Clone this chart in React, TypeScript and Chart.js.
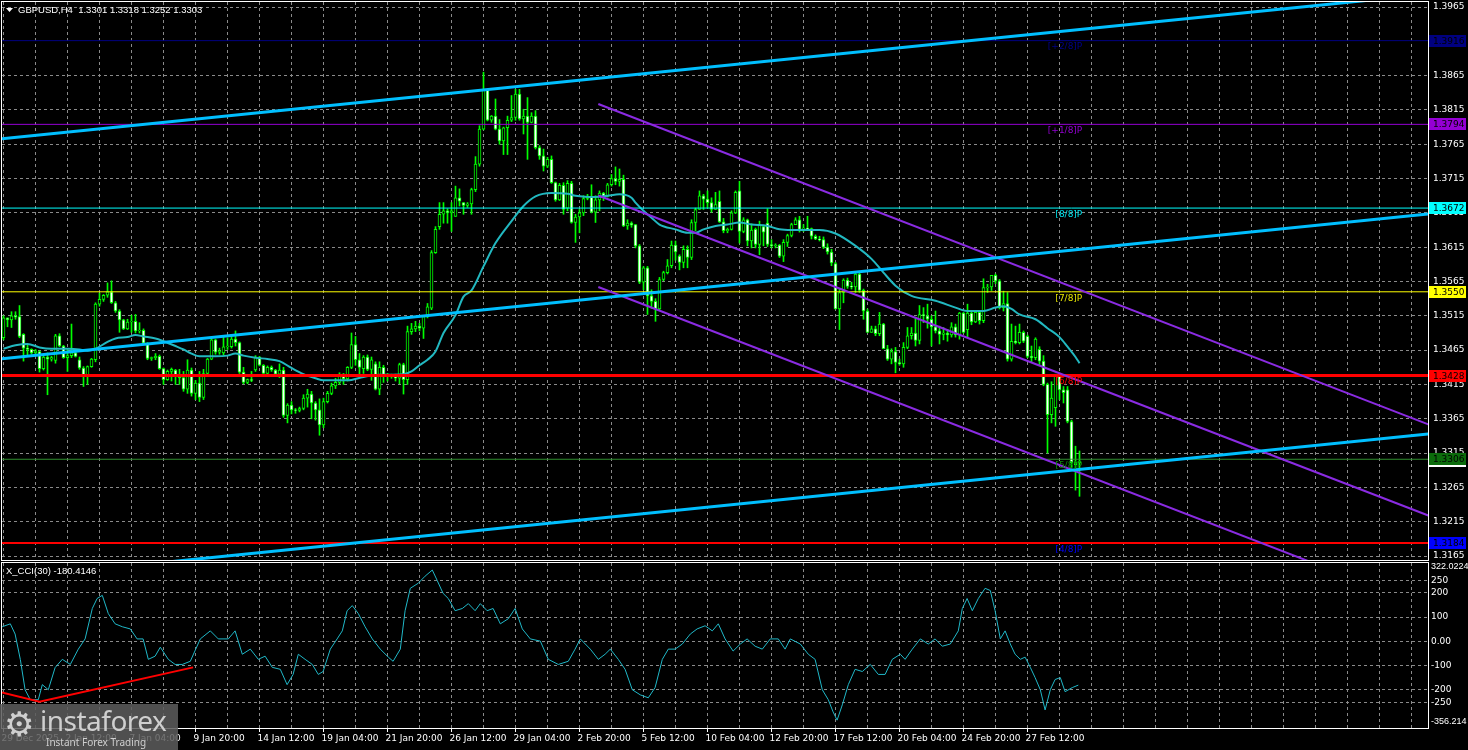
import React, { useEffect, useRef } from 'react';
import { Chart, registerables } from 'chart.js';

Chart.register(...registerables);

const FONT = 'DejaVu Sans';
const FONT_NARROW = 'Liberation Sans';
const GRID_COLOR = '#8a8a8a';

// ---------------- data ----------------
const HEADER_TEXT = 'GBPUSD,H4  1.3301 1.3318 1.3252 1.3303';
const CCI_TITLE = 'X_CCI(30) -180.4146';

// H4 candles (price x 10000)
const OPEN = [
  13483,13512,13509,13515,13514,13488,13468,13466,13461,13463,
  13438,13455,13452,13450,13486,13471,13454,13457,13461,13451,
  13439,13428,13441,13451,13532,13539,13545,13550,13534,13522,
  13509,13496,13506,13507,13493,13494,13475,13453,13454,13456,
  13438,13422,13434,13436,13428,13425,13408,13436,13402,13417,
  13396,13431,13452,13480,13462,13461,13470,13470,13481,13476,
  13433,13418,13422,13436,13455,13443,13431,13440,13436,13430,
  13436,13370,13385,13378,13377,13380,13395,13401,13388,13378,
  13356,13390,13402,13413,13418,13430,13423,13440,13473,13451,
  13438,13455,13437,13445,13408,13440,13429,13428,13426,13424,
  13444,13422,13492,13496,13500,13497,13514,13526,13607,13645,
  13663,13668,13665,13660,13687,13680,13676,13678,13699,13736,
  13787,13845,13800,13806,13787,13770,13789,13800,13804,13838,
  13802,13806,13797,13806,13760,13748,13733,13743,13709,13684,
  13705,13672,13708,13651,13659,13665,13686,13688,13666,13684,
  13694,13689,13706,13715,13711,13714,13646,13650,13648,13617,
  13564,13585,13544,13536,13525,13568,13578,13588,13618,13602,
  13593,13612,13600,13651,13670,13690,13685,13680,13670,13682,
  13652,13639,13641,13665,13697,13638,13655,13624,13641,13619,
  13645,13650,13619,13617,13618,13602,13622,13632,13648,13655,
  13641,13643,13642,13631,13627,13626,13615,13608,13591,13525,
  13549,13567,13558,13557,13576,13552,13522,13491,13496,13489,
  13503,13467,13452,13463,13447,13445,13469,13486,13490,13479,
  13517,13515,13510,13499,13493,13488,13490,13487,13499,13487,
  13519,13495,13519,13506,13520,13508,13556,13557,13574,13566,
  13527,13533,13452,13478,13476,13491,13485,13456,13454,13466,
  13449,13415,13371,13381,13427,13407,13407,13361,13298,13301,
];
const HIGH = [
  13515,13512,13521,13521,13530,13489,13473,13467,13466,13464,
  13456,13461,13456,13488,13489,13472,13466,13503,13463,13455,
  13441,13442,13453,13534,13548,13546,13563,13566,13536,13524,
  13510,13510,13516,13517,13505,13496,13476,13455,13460,13458,
  13439,13436,13439,13437,13437,13434,13451,13439,13421,13434,
  13437,13453,13483,13481,13468,13485,13483,13488,13493,13477,
  13440,13423,13434,13457,13456,13444,13442,13442,13437,13445,
  13440,13387,13390,13380,13382,13400,13408,13405,13390,13394,
  13395,13405,13417,13424,13432,13431,13441,13490,13485,13460,
  13457,13458,13455,13448,13448,13443,13431,13430,13430,13446,
  13446,13500,13504,13507,13504,13514,13533,13610,13645,13680,
  13680,13671,13680,13704,13700,13680,13680,13701,13747,13792,
  13870,13845,13807,13831,13801,13790,13806,13836,13845,13845,
  13816,13833,13811,13814,13763,13758,13746,13748,13710,13708,
  13709,13712,13711,13663,13670,13690,13692,13706,13690,13697,
  13695,13708,13721,13732,13729,13720,13655,13652,13648,13619,
  13587,13587,13553,13540,13571,13580,13597,13624,13624,13604,
  13617,13617,13655,13672,13697,13692,13697,13687,13695,13697,
  13657,13643,13668,13697,13711,13658,13656,13649,13643,13653,
  13646,13671,13626,13620,13619,13626,13634,13650,13658,13660,
  13648,13660,13643,13633,13631,13630,13620,13612,13593,13554,
  13569,13570,13564,13578,13578,13554,13525,13500,13500,13520,
  13504,13472,13467,13469,13452,13476,13498,13498,13513,13530,
  13527,13532,13515,13522,13500,13498,13495,13505,13503,13520,
  13520,13532,13523,13522,13522,13569,13561,13574,13576,13568,
  13551,13549,13503,13500,13503,13493,13487,13471,13483,13470,
  13457,13417,13419,13430,13430,13412,13412,13363,13325,13318,
];
const LOW = [
  13480,13499,13498,13510,13483,13449,13456,13459,13458,13433,
  13436,13400,13449,13446,13470,13453,13434,13454,13455,13437,
  13412,13415,13440,13448,13529,13536,13542,13533,13520,13491,
  13495,13495,13491,13490,13490,13473,13451,13450,13451,13437,
  13415,13421,13420,13415,13415,13405,13402,13398,13393,13390,
  13393,13430,13451,13459,13459,13458,13466,13468,13471,13431,
  13416,13416,13419,13434,13442,13429,13429,13434,13427,13425,
  13367,13359,13372,13373,13375,13378,13382,13365,13363,13341,
  13352,13388,13400,13409,13415,13415,13420,13438,13443,13426,
  13431,13435,13421,13407,13400,13418,13420,13424,13420,13416,
  13401,13415,13488,13492,13493,13482,13512,13524,13606,13641,
  13650,13650,13638,13660,13675,13663,13673,13663,13696,13733,
  13786,13799,13797,13786,13765,13750,13750,13798,13800,13800,
  13780,13743,13796,13758,13743,13726,13731,13708,13682,13683,
  13663,13668,13650,13622,13636,13661,13684,13665,13651,13668,
  13683,13688,13704,13706,13704,13645,13641,13644,13614,13562,
  13553,13517,13526,13507,13524,13566,13576,13585,13596,13582,
  13585,13585,13597,13639,13670,13670,13672,13666,13670,13651,
  13636,13636,13640,13664,13621,13636,13617,13614,13614,13604,
  13617,13616,13614,13614,13600,13594,13616,13630,13648,13637,
  13638,13640,13627,13626,13624,13613,13605,13588,13525,13495,
  13534,13555,13554,13549,13549,13510,13491,13491,13486,13486,
  13467,13450,13445,13432,13443,13440,13467,13481,13471,13474,
  13505,13497,13471,13490,13474,13480,13478,13484,13484,13481,
  13490,13483,13502,13505,13503,13505,13549,13552,13562,13525,
  13522,13449,13449,13474,13474,13476,13454,13447,13451,13444,
  13413,13315,13359,13354,13393,13388,13359,13293,13261,13252,
];
const CLOSE = [
  13512,13509,13515,13513,13485,13468,13466,13461,13464,13438,
  13455,13452,13454,13486,13471,13454,13457,13461,13456,13439,
  13428,13441,13452,13532,13539,13545,13550,13534,13522,13509,
  13496,13506,13507,13493,13494,13475,13453,13454,13456,13438,
  13422,13434,13437,13428,13425,13408,13436,13402,13417,13396,
  13431,13452,13480,13462,13464,13470,13471,13481,13476,13433,
  13418,13422,13421,13455,13443,13431,13440,13436,13430,13436,
  13370,13385,13378,13377,13380,13395,13401,13388,13378,13356,
  13390,13402,13413,13418,13430,13423,13440,13473,13451,13440,
  13455,13437,13451,13408,13440,13429,13428,13426,13424,13444,
  13422,13492,13496,13500,13497,13514,13528,13607,13641,13663,
  13668,13665,13668,13687,13682,13676,13678,13699,13736,13787,
  13845,13800,13806,13787,13770,13789,13800,13804,13838,13802,
  13806,13797,13806,13760,13748,13733,13743,13709,13684,13705,
  13670,13708,13651,13659,13665,13686,13688,13666,13684,13694,
  13689,13706,13715,13711,13714,13646,13650,13647,13617,13564,
  13585,13544,13536,13525,13568,13578,13588,13618,13608,13593,
  13612,13600,13651,13670,13690,13685,13680,13670,13677,13652,
  13639,13641,13665,13695,13638,13655,13624,13640,13619,13648,
  13637,13619,13617,13618,13602,13622,13632,13648,13655,13641,
  13643,13642,13631,13627,13626,13615,13608,13592,13525,13549,
  13567,13558,13557,13576,13552,13522,13491,13496,13489,13503,
  13467,13452,13463,13447,13445,13469,13486,13490,13479,13517,
  13515,13510,13499,13493,13488,13490,13487,13499,13487,13519,
  13491,13519,13506,13520,13508,13556,13557,13574,13566,13527,
  13533,13452,13478,13476,13491,13478,13456,13454,13481,13449,
  13415,13371,13395,13427,13407,13403,13361,13301,13301,13303,
];

// moving average (bar index, price x 10000)
const MA_BARS = [0,3,6,9,12,16,19,21,23,26,28,31,33,35,38,40,43,45,47,49,53,56,58,60,63,66,69,72,75,78,80,86,90,94,100,102,104,106,108,110,113,115,117,120,123,127,130,133,137,141,143,148,151,154,157,158,160,162,164,168,171,173,175,178,181,184,187,191,194,197,201,204,208,213,217,220,223,227,233,238,241,245,248,250,252,254,258,261,264,266,268,269];
const MA_VALUES = [13467,13472,13474,13469,13467,13467,13466,13464,13467,13477,13482,13484,13487,13485,13482,13478,13471,13466,13460,13456,13456,13457,13460,13457,13454,13452,13449,13439,13430,13424,13421,13421,13426,13429,13430,13434,13443,13451,13463,13490,13516,13543,13552,13587,13621,13653,13675,13689,13694,13693,13690,13688,13690,13692,13687,13680,13668,13658,13648,13641,13636,13636,13641,13646,13648,13651,13648,13646,13641,13640,13640,13640,13635,13617,13598,13578,13559,13544,13537,13527,13522,13522,13527,13529,13525,13517,13510,13497,13484,13470,13455,13446];

// time axis
const TIME_LABELS = ['29 Dec 2025','2 Jan 12:00','7 Jan 04:00','9 Jan 20:00','14 Jan 12:00','19 Jan 04:00','21 Jan 20:00','26 Jan 12:00','29 Jan 04:00','2 Feb 20:00','5 Feb 12:00','10 Feb 04:00','12 Feb 20:00','17 Feb 12:00','20 Feb 04:00','24 Feb 20:00','27 Feb 12:00'];
const TIME_LABEL_EVERY = 16;
const GRID_EVERY = 8;
const X_RANGE = [-0.375, 356.125];

// price axis (1.3915 is hidden by the 1.3916 level box)
const PRICE_RANGE = [1.31592, 1.39723];
const PRICE_TICKS = [1.3165,1.3215,1.3265,1.3315,1.3365,1.3415,1.3465,1.3515,1.3565,1.3615,1.3665,1.3715,1.3765,1.3815,1.3865,1.3965];

// Murrey levels
const LEVEL_PRICES = [1.3916, 1.3794, 1.3672, 1.3550, 1.3428, 1.3306, 1.3184];
const LEVEL_TAGS = ['[+2/8]P','[+1/8]P','[8/8]P','[7/8]P','[6/8]P','[5/8]P','[4/8]P'];
const LEVEL_LINE_COLORS = ['#000080','#9400d3','#00ffff','#ffff00','#ff0000','#2f8f2f','#ff0000'];
const LEVEL_LINE_WIDTHS = [1,1,1,1,3,1,2];
const LEVEL_TAG_COLORS = ['#00008b','#9400d3','#00e5ee','#e6e600','#ff0000','#0e8a0e','#0000ff'];
const LEVEL_BOX_COLORS = ['#000080','#9400d3','#00ffff','#ffff00','#ff0000','#0b6b0b','#0000ff'];
const LEVEL_TAG_BAR = 269.7;
const BID_PRICE = 1.3303;

// channels (bar index, price)
const BLUE_BARS = [-0.825, 356.2];
const BLUE_UPPER = [1.37727, 1.39837];
const BLUE_MIDDLE = [1.34521, 1.36634];
const BLUE_LOWER = [1.31315, 1.33428];
const PURPLE_BARS = [148.7, 356.2];
const PURPLE_UPPER = [1.38237, 1.33568];
const PURPLE_MIDDLE = [1.36903, 1.32240];
const PURPLE_LOWER = [1.35570, 1.30901];

// CCI(30)
const CCI_RANGE = [-356.214, 322.0224];
const CCI_TICKS = [250, 200, 100, 0, -100, -200, -250];
const CCI_BARS = [-0.3,1.7,2.9,4.2,5.4,6.7,8.7,9.7,11.2,12.9,14.7,16.7,18.7,20.4,22.2,23.4,24.7,26.2,27.9,29.7,31.7,33.4,34.9,36.2,37.9,39.2,41.2,42.9,44.7,46.7,49.2,51.7,53.7,56.2,57.9,59.7,61.7,63.7,65.4,67.2,69.2,70.9,72.4,73.7,75.4,77.2,78.7,79.9,81.7,83.4,84.7,85.9,87.2,88.7,90.4,92.2,94.2,96.2,97.4,99.2,100.4,101.7,103.7,105.4,107.2,108.4,109.9,111.2,112.9,114.7,116.2,117.9,119.2,120.9,122.4,124.2,126.2,127.9,129.7,131.7,134.2,136.2,138.7,141.2,142.9,144.2,146.7,148.7,150.4,151.7,153.7,155.4,157.2,159.2,161.2,162.9,164.7,166.2,167.9,169.7,171.7,173.4,175.4,177.2,178.7,180.4,182.4,184.2,185.9,187.9,189.7,191.7,193.7,195.4,196.7,199.2,201.2,202.9,204.7,206.2,207.4,208.4,209.7,211.2,212.9,214.7,216.7,218.7,220.4,222.2,224.2,225.4,227.2,229.2,231.2,232.9,234.7,236.7,238.7,239.7,240.9,242.2,243.7,245.4,246.7,247.9,249.2,250.4,251.7,252.9,254.2,255.4,256.7,257.9,259.2,260.4,261.7,262.9,264.2,265.4,267.2,268.7];
const CCI_VALUES = [60,72,30,-74,-199,-240,-240,-178,-199,-108,-74,-95,-32,10,135,176,189,114,72,60,51,10,10,-74,-61,-24,-74,-95,-95,-82,10,43,10,10,43,-53,-32,-74,-61,-107,-115,-178,-136,-53,-74,-95,-136,-124,-32,10,43,126,147,114,60,10,-32,-65,-82,-32,126,218,239,268,293,251,197,176,126,135,155,126,155,126,135,72,93,135,51,10,1,-74,-95,-82,-32,10,-32,-74,-53,-32,-74,-115,-199,-220,-232,-190,-74,-32,-32,-11,30,51,64,43,72,10,-40,-11,10,-20,-32,10,10,-32,10,-11,-53,-74,-199,-240,-290,-324,-261,-178,-115,-124,-95,-136,-136,-74,-53,-74,-32,10,-11,10,-20,-11,43,135,176,126,176,218,209,126,10,43,-11,-53,-74,-65,-107,-149,-199,-282,-199,-157,-149,-207,-190,-180];
const CCI_TREND_BARS = [-0.5, 9, 47.4];
const CCI_TREND_VALUES = [-210, -248, -107];

// ---------------- helpers ----------------
const P = (v: number) => v / 10000;
const font = (size: number, family = FONT) => ({ family, size });

const bgPlugin = {
  id: 'bg',
  beforeDraw(chart: any) {
    const { ctx, width, height } = chart;
    ctx.save();
    ctx.fillStyle = '#000000';
    ctx.fillRect(0, 0, width, height);
    ctx.restore();
  },
};

const framePlugin = {
  id: 'frame',
  afterDraw(chart: any) {
    const { ctx, chartArea: a } = chart;
    ctx.save();
    ctx.strokeStyle = '#ffffff';
    ctx.lineWidth = 1;
    ctx.strokeRect(a.left - 0.5, a.top - 0.5, a.right - a.left + 1, a.bottom - a.top + 1);
    ctx.restore();
  },
};

function xScaleConfig(showLabels: boolean) {
  return {
    type: 'linear',
    min: X_RANGE[0],
    max: X_RANGE[1],
    offset: false,
    afterBuildTicks: (s: any) => {
      const t: any[] = [];
      for (let v = 0; v <= X_RANGE[1]; v += GRID_EVERY) t.push({ value: v });
      s.ticks = t;
    },
    afterFit: (s: any) => {
      s.height = showLabels ? 22 : 0;
      s.paddingLeft = 0;
      s.paddingRight = 0;
    },
    grid: {
      color: GRID_COLOR,
      lineWidth: 1,
      offset: false,
      drawTicks: showLabels,
      tickLength: 4,
      tickColor: (c: any) =>
        c.tick && c.tick.value % TIME_LABEL_EVERY === 0 && c.tick.value / TIME_LABEL_EVERY < TIME_LABELS.length
          ? '#ffffff'
          : 'rgba(0,0,0,0)',
    },
    border: { display: false, dash: [3, 3] },
    ticks: {
      display: showLabels,
      autoSkip: false,
      maxRotation: 0,
      minRotation: 0,
      align: 'start',
      labelOffset: -2,
      padding: 1,
      color: '#ffffff',
      font: font(9),
      callback: (v: any) => {
        const n = Number(v);
        if (n % TIME_LABEL_EVERY !== 0) return '';
        return TIME_LABELS[n / TIME_LABEL_EVERY] ?? '';
      },
    },
  };
}

function yFit(s: any) {
  s.width = 40;
  s.paddingTop = 0;
  s.paddingBottom = 0;
}

function lineDs(xs: number[], ys: number[], color: string, width: number, order: number, extra: any = {}) {
  return {
    type: 'line',
    data: xs.map((x, i) => ({ x, y: ys[i] })),
    borderColor: color,
    borderWidth: width,
    pointRadius: 0,
    fill: false,
    tension: 0,
    order,
    ...extra,
  };
}

function mainConfig(): any {
  const idx = OPEN.map((_, i) => i);
  const datasets: any[] = [];
  datasets.push({
    type: 'bar',
    data: idx.map((i) => ({ x: i, y: [P(LOW[i]), P(HIGH[i])] })),
    backgroundColor: '#00ff00',
    borderWidth: 0,
    barThickness: 1,
    grouped: false,
    order: 20,
  });
  datasets.push({
    type: 'bar',
    data: idx.map((i) => ({ x: i, y: [P(OPEN[i]), P(CLOSE[i])] })),
    backgroundColor: idx.map((i) => (CLOSE[i] < OPEN[i] ? '#ffffff' : '#000000')),
    borderColor: '#00ff00',
    borderWidth: 1,
    borderSkipped: false,
    barThickness: 3,
    grouped: false,
    order: 19,
  });
  datasets.push(
    lineDs(MA_BARS, MA_VALUES.map(P), '#22b8c0', 2, 6, { cubicInterpolationMode: 'monotone' })
  );
  LEVEL_PRICES.forEach((p, i) => {
    datasets.push(lineDs([X_RANGE[0], X_RANGE[1]], [p, p], LEVEL_LINE_COLORS[i], LEVEL_LINE_WIDTHS[i], 4));
  });
  [PURPLE_UPPER, PURPLE_MIDDLE, PURPLE_LOWER].forEach((ys) => {
    datasets.push(lineDs(PURPLE_BARS, ys, '#8a2be2', 2, 3));
  });
  [BLUE_UPPER, BLUE_MIDDLE, BLUE_LOWER].forEach((ys) => {
    datasets.push(lineDs(BLUE_BARS, ys, '#00bfff', 3, 2));
  });

  const overlay = {
    id: 'mainOverlay',
    afterDraw(chart: any) {
      const { ctx } = chart;
      const xs = chart.scales.x;
      const ys = chart.scales.y;
      const a = chart.chartArea;
      ctx.save();
      ctx.font = `9px ${FONT}`;
      // tags on plot
      LEVEL_PRICES.forEach((p, i) => {
        ctx.fillStyle = LEVEL_TAG_COLORS[i];
        ctx.textAlign = 'right';
        ctx.textBaseline = 'top';
        ctx.fillText(LEVEL_TAGS[i], xs.getPixelForValue(LEVEL_TAG_BAR), ys.getPixelForValue(p) + 2);
      });
      // bid box
      const boxL = a.right + 1;
      const yb = ys.getPixelForValue(BID_PRICE);
      ctx.fillStyle = '#ffffff';
      ctx.fillRect(boxL, Math.round(yb) - 6, 37, 12);
      // level boxes
      LEVEL_PRICES.forEach((p, i) => {
        const y = Math.round(ys.getPixelForValue(p));
        ctx.fillStyle = LEVEL_BOX_COLORS[i];
        ctx.fillRect(boxL, y - 6, 37, 12);
        ctx.fillStyle = '#000000';
        ctx.textAlign = 'left';
        ctx.textBaseline = 'middle';
        ctx.fillText(p.toFixed(4), boxL + 4, y + 0.5);
      });
      // header
      ctx.fillStyle = '#ffffff';
      ctx.textAlign = 'left';
      ctx.textBaseline = 'middle';
      ctx.beginPath();
      ctx.moveTo(6, 8);
      ctx.lineTo(13, 8);
      ctx.lineTo(9.5, 12);
      ctx.closePath();
      ctx.fill();
      ctx.font = `9.5px ${FONT_NARROW}`;
      ctx.fillText(HEADER_TEXT, 18, 10.5);
      ctx.restore();
    },
  };

  return {
    type: 'bar',
    data: { datasets },
    options: {
      responsive: false,
      animation: false,
      devicePixelRatio: 1,
      events: [],
      layout: { padding: { left: 2, top: 2, right: 0, bottom: 2 } },
      plugins: { legend: { display: false }, tooltip: { enabled: false } },
      scales: {
        x: xScaleConfig(false),
        y: {
          type: 'linear',
          position: 'right',
          min: PRICE_RANGE[0],
          max: PRICE_RANGE[1],
          beginAtZero: false,
          afterBuildTicks: (s: any) => {
            s.ticks = PRICE_TICKS.map((v) => ({ value: v }));
          },
          afterFit: yFit,
          grid: { color: GRID_COLOR, drawTicks: false },
          border: { display: false, dash: [3, 3] },
          ticks: {
            color: '#ffffff',
            padding: 5,
            autoSkip: false,
            font: font(9),
            callback: (v: any) => Number(v).toFixed(4),
          },
        },
      },
    },
    plugins: [bgPlugin, framePlugin, overlay],
  };
}

function cciConfig(): any {
  const datasets: any[] = [
    lineDs(CCI_TREND_BARS, CCI_TREND_VALUES, '#ff0000', 2, 1),
    lineDs(CCI_BARS, CCI_VALUES, '#20b8c8', 1, 2),
  ];
  const overlay = {
    id: 'cciOverlay',
    afterDraw(chart: any) {
      const { ctx } = chart;
      const a = chart.chartArea;
      ctx.save();
      ctx.fillStyle = '#ffffff';
      ctx.textAlign = 'left';
      ctx.textBaseline = 'middle';
      ctx.font = `9.5px ${FONT_NARROW}`;
      ctx.fillText(CCI_TITLE, 6, a.top + 8);
      ctx.font = `9px ${FONT_NARROW}`;
      ctx.fillText(CCI_RANGE[1].toFixed(4), a.right + 3, a.top + 4);
      ctx.fillText(CCI_RANGE[0].toFixed(3), a.right + 3, a.bottom - 6);
      ctx.restore();
    },
  };
  return {
    type: 'line',
    data: { datasets },
    options: {
      responsive: false,
      animation: false,
      devicePixelRatio: 1,
      events: [],
      layout: { padding: { left: 2, top: 1, right: 0, bottom: 0 } },
      plugins: { legend: { display: false }, tooltip: { enabled: false } },
      scales: {
        x: xScaleConfig(true),
        y: {
          type: 'linear',
          position: 'right',
          min: CCI_RANGE[0],
          max: CCI_RANGE[1],
          afterBuildTicks: (s: any) => {
            s.ticks = CCI_TICKS.map((v) => ({ value: v }));
          },
          afterFit: yFit,
          grid: { color: GRID_COLOR, drawTicks: false },
          border: { display: false, dash: [3, 3] },
          ticks: {
            color: '#ffffff',
            padding: 3,
            autoSkip: false,
            font: font(9),
            callback: (v: any) => (Number(v) === 0 ? '0.00' : String(v)),
          },
        },
      },
    },
    plugins: [bgPlugin, framePlugin, overlay],
  };
}

function Logo() {
  return (
    <div
      style={{
        position: 'absolute',
        left: 0,
        top: 704,
        width: 178,
        height: 46,
        background: 'rgba(92,92,92,0.86)',
        color: '#cfcfcf',
        fontFamily: 'Noto Sans, DejaVu Sans, sans-serif',
        overflow: 'hidden',
      }}
    >
      <div style={{ position: 'absolute', left: 4, top: 0, fontSize: 34, lineHeight: '40px', fontFamily: 'DejaVu Sans' }}>
        {'\u2699'}
      </div>
      <div style={{ position: 'absolute', left: 40, top: -2, fontSize: 28, lineHeight: '36px', letterSpacing: -0.5 }}>
        instaforex
      </div>
      <div style={{ position: 'absolute', left: 46, top: 32, fontSize: 10, lineHeight: '12px' }}>Instant Forex Trading</div>
    </div>
  );
}

export default function App() {
  const mainRef = useRef<HTMLCanvasElement | null>(null);
  const cciRef = useRef<HTMLCanvasElement | null>(null);

  useEffect(() => {
    document.body.style.margin = '0';
    document.body.style.background = '#000';
    const main = new Chart(mainRef.current as HTMLCanvasElement, mainConfig());
    const cci = new Chart(cciRef.current as HTMLCanvasElement, cciConfig());
    return () => {
      main.destroy();
      cci.destroy();
    };
  }, []);

  return (
    <div style={{ position: 'relative', width: 1468, height: 750, background: '#000', overflow: 'hidden' }}>
      <canvas
        ref={mainRef}
        width={1468}
        height={562}
        style={{ position: 'absolute', left: 0, top: 0, width: 1468, height: 562 }}
      />
      <canvas
        ref={cciRef}
        width={1468}
        height={188}
        style={{ position: 'absolute', left: 0, top: 562, width: 1468, height: 188 }}
      />
      <Logo />
    </div>
  );
}
